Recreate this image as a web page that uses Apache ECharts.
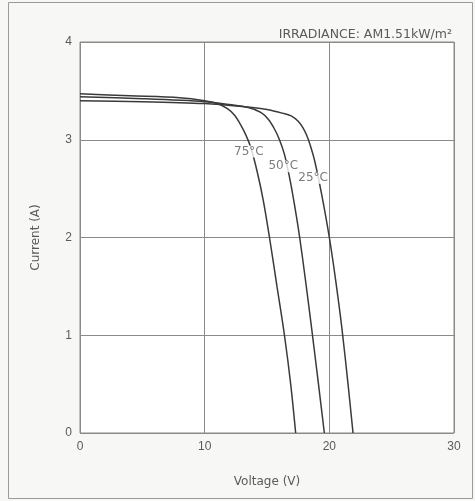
<!DOCTYPE html>
<html>
<head>
<meta charset="utf-8">
<script src="https://cdn.jsdelivr.net/npm/echarts@6/dist/echarts.min.js"></script>
<style>
  html, body { margin: 0; padding: 0; background: #f7f7f5; }
  #chart { width: 475px; height: 501px; }
</style>
</head>
<body>
<div id="chart"></div>
<script>
// I-V curves of a PV module at three cell temperatures, [voltage V, current A]
const curve75 = [[0,3.47],[4,3.45],[8,3.43],[10,3.40],[11,3.37],[11.8,3.32],[12.4,3.25],[12.9,3.15],[13.3,3.05],[13.7,2.92],[14.2,2.68],[14.7,2.38],[15.2,2.0],[15.8,1.5],[16.4,1.0],[16.9,0.5],[17.3,0]];
const curve50 = [[0,3.44],[5,3.42],[10,3.39],[12,3.36],[13.5,3.33],[14.5,3.28],[15.1,3.21],[15.6,3.11],[16.0,3.0],[16.4,2.85],[16.8,2.62],[17.2,2.34],[17.6,2.02],[18.1,1.55],[18.6,1.05],[19.1,0.53],[19.6,0]];
const curve25 = [[0,3.40],[5,3.39],[10,3.37],[13,3.34],[15,3.31],[16.3,3.27],[17.0,3.24],[17.5,3.19],[17.9,3.12],[18.2,3.04],[18.5,2.93],[18.85,2.77],[19.4,2.43],[20.0,2.0],[20.5,1.57],[21.0,1.08],[21.5,0.5],[21.9,0]];

const tempNames = ['75°C', '50°C', '25°C'];
const tempLabelAt = [[13.55, 2.88], [16.3, 2.73], [18.7, 2.61]];

const xTicks = [0, 10, 20, 30];
const yTicks = [0, 1, 2, 3, 4];

const font = 'Liberation Sans, Arial, sans-serif';
const wideFont = 'DejaVu Sans, sans-serif';
const inkGray = '#5a5a5a';

const chart = echarts.init(document.getElementById('chart'), null, { renderer: 'canvas' });

function curveSeries(data) {
  return {
    type: 'line',
    data: data,
    smooth: 0.3,
    symbol: 'none',
    lineStyle: { color: '#3a3a3a', width: 1.5 },
    z: 3
  };
}

chart.setOption({
  backgroundColor: '#f7f7f5',
  animation: false,
  title: {
    text: 'IRRADIANCE: AM1.51kW/m²',
    right: 18,
    top: 23,
    textStyle: { fontFamily: wideFont, fontSize: 12.5, fontWeight: 'normal', color: inkGray }
  },
  graphic: [{
    type: 'rect',
    shape: { x: 8.5, y: 2.5, width: 464, height: 496 },
    style: { fill: 'none', stroke: '#9a9a9a', lineWidth: 1 },
    silent: true, z: -1
  }],
  grid: { left: 80, right: 21, top: 42, bottom: 68, show: true, backgroundColor: '#ffffff', borderColor: '#8a8a8a', borderWidth: 1 },
  xAxis: {
    type: 'value',
    min: xTicks[0], max: xTicks[xTicks.length - 1], interval: 10,
    name: 'Voltage (V)', nameLocation: 'middle', nameGap: 43,
    nameTextStyle: { fontFamily: wideFont, fontSize: 12, color: inkGray },
    axisLine: { show: false },
    axisTick: { show: false },
    axisLabel: { fontFamily: font, fontSize: 12, color: inkGray, margin: 8 },
    splitLine: { show: true, lineStyle: { color: '#8a8a8a', width: 1 } }
  },
  yAxis: {
    type: 'value',
    min: yTicks[0], max: yTicks[yTicks.length - 1], interval: 1,
    name: 'Current (A)', nameLocation: 'middle', nameGap: 38,
    nameTextStyle: { fontFamily: wideFont, fontSize: 12, color: inkGray },
    axisLine: { show: false },
    axisTick: { show: false },
    axisLabel: { fontFamily: font, fontSize: 12, color: inkGray, margin: 8 },
    splitLine: { show: true, lineStyle: { color: '#8a8a8a', width: 1 } }
  },
  series: [
    curveSeries(curve75),
    curveSeries(curve50),
    curveSeries(curve25),
    {
      type: 'scatter',
      symbolSize: 0,
      data: tempLabelAt.map((p, i) => ({ value: p, name: tempNames[i] })),
      label: {
        show: true, position: 'inside', formatter: '{b}',
        fontFamily: wideFont, fontSize: 12, color: inkGray,
        backgroundColor: '#ffffff', padding: [0, 1]
      },
      z: 4
    }
  ]
});
</script>
</body>
</html>
